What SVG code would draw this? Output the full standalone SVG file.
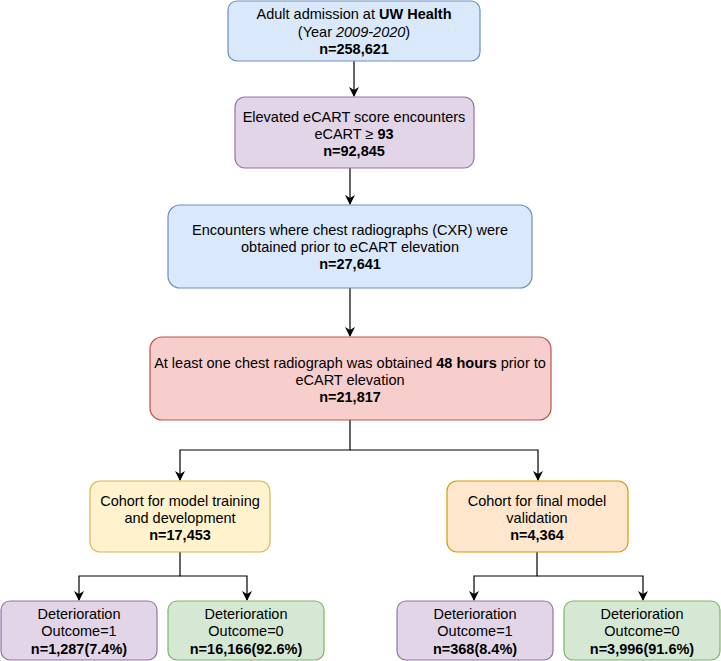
<svg xmlns="http://www.w3.org/2000/svg" width="721" height="661" viewBox="0 0 721 661">
<style>
text{font-family:"Liberation Sans",Arial,Helvetica,sans-serif;font-size:14.5px;fill:#000;text-anchor:middle}
.b{font-weight:bold}
.i{font-style:italic}
.blue{fill:#dae8fc;stroke:#6c8ebf}
.purple{fill:#e1d5e7;stroke:#9673a6}
.red{fill:#f8cecc;stroke:#b85450}
.yellow{fill:#fff2cc;stroke:#d6b656}
.orange{fill:#ffe6cc;stroke:#d79b00}
.green{fill:#d5e8d4;stroke:#82b366}
rect{stroke-width:1.2}
.c{fill:none;stroke:#000;stroke-width:1.2}
</style>
<defs>
<marker id="ah" viewBox="0 0 10 10" refX="9" refY="5" markerWidth="10" markerHeight="10" markerUnits="userSpaceOnUse" orient="auto">
<path d="M0,0 L10,5 L0,10 L3,5 Z" fill="#000"/>
</marker>
</defs>
<rect width="721" height="661" fill="#fff"/>
<g id="connectors">
<path class="c" d="M354,61 V96" marker-end="url(#ah)"/>
<path class="c" d="M350,168 V204" marker-end="url(#ah)"/>
<path class="c" d="M350,288 V336" marker-end="url(#ah)"/>
<path class="c" d="M350,420 V450 H180 V480" marker-end="url(#ah)"/>
<path class="c" d="M350,450 H538 V480" marker-end="url(#ah)"/>
<path class="c" d="M180,552 V576 H79 V600" marker-end="url(#ah)"/>
<path class="c" d="M180,576 H247 V600" marker-end="url(#ah)"/>
<path class="c" d="M537,552 V576 H474 V600" marker-end="url(#ah)"/>
<path class="c" d="M537,576 H643 V600" marker-end="url(#ah)"/>
</g>
<g id="n1">
<rect class="blue" x="228" y="1" width="252" height="60" rx="9"/>
<text x="354" y="19">Adult admission at <tspan class="b">UW Health</tspan></text>
<text x="354" y="37">(Year <tspan class="i">2009-2020</tspan>)</text>
<text x="354" y="54" class="b">n=258,621</text>
</g>
<g id="n2">
<rect class="purple" x="235" y="97" width="239" height="71" rx="10"/>
<text x="354" y="122">Elevated eCART score encounters</text>
<text x="354" y="139">eCART ≥ <tspan class="b">93</tspan></text>
<text x="354" y="156" class="b">n=92,845</text>
</g>
<g id="n3">
<rect class="blue" x="168" y="205" width="364" height="83" rx="12"/>
<text x="350" y="235">Encounters where chest radiographs (CXR) were</text>
<text x="350" y="252">obtained prior to eCART elevation</text>
<text x="350" y="269" class="b">n=27,641</text>
</g>
<g id="n4">
<rect class="red" x="150" y="337" width="401" height="83" rx="12"/>
<text x="350" y="368">At least one chest radiograph was obtained <tspan class="b">48 hours</tspan> prior to</text>
<text x="350" y="385">eCART elevation</text>
<text x="350" y="402" class="b">n=21,817</text>
</g>
<g id="n5">
<rect class="yellow" x="90" y="481" width="180" height="71" rx="10"/>
<text x="180" y="506">Cohort for model training</text>
<text x="180" y="523">and development</text>
<text x="180" y="540" class="b">n=17,453</text>
</g>
<g id="n6">
<rect class="orange" x="447" y="481" width="181" height="71" rx="10"/>
<text x="537" y="506">Cohort for final model</text>
<text x="537" y="523">validation</text>
<text x="537" y="540" class="b">n=4,364</text>
</g>
<g id="n7">
<rect class="purple" x="1" y="601" width="156" height="59" rx="9"/>
<text x="79" y="619">Deterioration</text>
<text x="79" y="636">Outcome=1</text>
<text x="79" y="654" class="b">n=1,287(7.4%)</text>
</g>
<g id="n8">
<rect class="green" x="168" y="601" width="156" height="59" rx="9"/>
<text x="246" y="619">Deterioration</text>
<text x="246" y="636">Outcome=0</text>
<text x="246" y="654" class="b">n=16,166(92.6%)</text>
</g>
<g id="n9">
<rect class="purple" x="397" y="601" width="156" height="59" rx="9"/>
<text x="475" y="619">Deterioration</text>
<text x="475" y="636">Outcome=1</text>
<text x="475" y="654" class="b">n=368(8.4%)</text>
</g>
<g id="n10">
<rect class="green" x="564" y="601" width="156" height="59" rx="9"/>
<text x="642" y="619">Deterioration</text>
<text x="642" y="636">Outcome=0</text>
<text x="642" y="654" class="b">n=3,996(91.6%)</text>
</g>
</svg>
